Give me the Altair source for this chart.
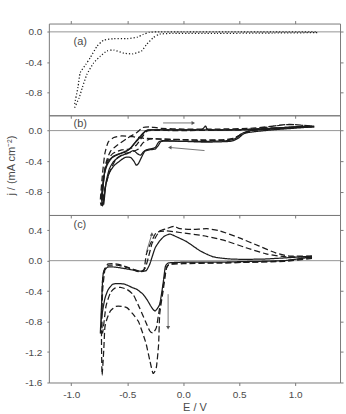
import altair as alt
import pandas as pd

# ---------------- data ----------------
X_DOMAIN = [-1.2, 1.4]
X_TICKS = [-1.0, -0.5, 0.0, 0.5, 1.0]

# panel (a): dotted curves
a_upper = [(-0.97, -0.95), (-0.94, -0.73), (-0.92, -0.54), (-0.87, -0.43), (-0.83, -0.34),
           (-0.77, -0.19), (-0.71, -0.11), (-0.62, -0.09), (-0.50, -0.09), (-0.41, -0.07),
           (-0.36, -0.035), (-0.30, -0.005), (-0.21, 0.0), (0.0, 0.0), (0.4, 0.0), (0.8, 0.0), (1.2, 0.0)]
a_lower = [(-0.97, -1.0), (-0.93, -0.87), (-0.90, -0.73), (-0.86, -0.56), (-0.80, -0.41),
           (-0.74, -0.32), (-0.68, -0.25), (-0.62, -0.24), (-0.53, -0.28), (-0.45, -0.29),
           (-0.37, -0.25), (-0.33, -0.17), (-0.27, -0.08), (-0.21, -0.03), (-0.09, -0.02),
           (0.3, -0.02), (0.8, -0.015), (1.2, -0.01)]

# panel (b)
b_solid1 = [(1.17, 0.05), (1.0, 0.04), (0.8, 0.02), (0.6, 0.0), (0.52, -0.04), (0.47, -0.10),
            (0.40, -0.13), (0.2, -0.14), (0.0, -0.14), (-0.18, -0.13), (-0.22, -0.15), (-0.25, -0.22),
            (-0.30, -0.24), (-0.34, -0.26), (-0.37, -0.34), (-0.40, -0.43), (-0.42, -0.45), (-0.44, -0.40),
            (-0.47, -0.35), (-0.52, -0.35), (-0.57, -0.40), (-0.62, -0.46), (-0.66, -0.55), (-0.69, -0.70),
            (-0.72, -0.98), (-0.73, -0.85), (-0.71, -0.60), (-0.68, -0.45), (-0.64, -0.36), (-0.58, -0.31),
            (-0.52, -0.28), (-0.47, -0.23), (-0.43, -0.16), (-0.38, -0.08), (-0.33, 0.0), (-0.25, 0.01),
            (0.0, 0.01), (0.16, 0.01), (0.20, 0.06), (0.23, 0.01), (0.5, 0.01), (0.8, 0.03), (1.0, 0.05),
            (1.17, 0.06)]
b_solid2 = [(1.17, 0.05), (0.8, 0.01), (0.56, -0.03), (0.49, -0.10), (0.42, -0.14), (0.2, -0.15),
            (0.0, -0.14), (-0.19, -0.14), (-0.22, -0.19), (-0.25, -0.24), (-0.30, -0.25), (-0.35, -0.27),
            (-0.38, -0.32), (-0.41, -0.30), (-0.445, -0.26), (-0.50, -0.30), (-0.56, -0.33), (-0.62, -0.40),
            (-0.66, -0.50), (-0.69, -0.68), (-0.71, -0.96), (-0.72, -0.80), (-0.70, -0.52), (-0.67, -0.40),
            (-0.62, -0.33), (-0.55, -0.29), (-0.49, -0.25), (-0.45, -0.19), (-0.40, -0.10), (-0.35, -0.02),
            (-0.30, 0.01), (0.0, 0.01), (0.5, 0.01), (0.9, 0.04), (1.17, 0.05)]
b_dash1 = [(1.15, 0.06), (0.95, 0.08), (0.85, 0.07), (0.7, 0.03), (0.55, -0.03), (0.48, -0.08),
           (0.40, -0.12), (0.2, -0.13), (0.0, -0.12), (-0.2, -0.11), (-0.35, -0.10), (-0.45, -0.08),
           (-0.55, -0.07), (-0.62, -0.09), (-0.67, -0.15), (-0.70, -0.30), (-0.72, -0.55), (-0.74, -0.90),
           (-0.73, -0.97), (-0.71, -0.65), (-0.69, -0.42), (-0.65, -0.27), (-0.59, -0.19), (-0.50, -0.10),
           (-0.42, -0.03), (-0.36, 0.04), (-0.30, 0.05), (-0.2, 0.03), (0.0, 0.02), (0.3, 0.02),
           (0.6, 0.03), (0.8, 0.06), (0.95, 0.08), (1.15, 0.06)]
b_dash2 = [(1.15, 0.05), (0.8, 0.03), (0.6, 0.0), (0.52, -0.05), (0.45, -0.10), (0.35, -0.12),
           (0.1, -0.12), (-0.2, -0.11), (-0.30, -0.11), (-0.36, -0.16), (-0.40, -0.24), (-0.46, -0.28),
           (-0.52, -0.30), (-0.60, -0.37), (-0.66, -0.55), (-0.70, -0.75), (-0.72, -0.92), (-0.73, -0.85),
           (-0.71, -0.58), (-0.68, -0.40), (-0.63, -0.30), (-0.55, -0.25), (-0.48, -0.24), (-0.42, -0.19),
           (-0.36, -0.07), (-0.31, 0.0), (0.0, 0.0), (0.5, 0.01), (0.9, 0.04), (1.15, 0.05)]

# panel (c)
c_solid = [(1.15, 0.05), (0.9, 0.0), (0.6, -0.01), (0.3, -0.02), (0.0, -0.02), (-0.13, -0.03),
           (-0.16, -0.08), (-0.18, -0.30), (-0.21, -0.57), (-0.25, -0.66), (-0.28, -0.62), (-0.32, -0.52),
           (-0.36, -0.44), (-0.41, -0.38), (-0.46, -0.35), (-0.52, -0.31), (-0.58, -0.30), (-0.63, -0.31),
           (-0.67, -0.38), (-0.70, -0.50), (-0.73, -0.75), (-0.74, -0.95), (-0.73, -0.60), (-0.72, -0.25),
           (-0.71, -0.14), (-0.68, -0.09), (-0.65, -0.08), (-0.58, -0.09), (-0.50, -0.11), (-0.42, -0.13),
           (-0.37, -0.14), (-0.33, -0.13), (-0.30, -0.05), (-0.28, 0.04), (-0.25, 0.17), (-0.21, 0.26),
           (-0.17, 0.32), (-0.12, 0.35), (-0.07, 0.32), (0.03, 0.25), (0.15, 0.13), (0.27, 0.05),
           (0.44, 0.02), (0.7, 0.02), (0.95, 0.04), (1.15, 0.06)]
c_dash1 = [(1.15, 0.04), (0.9, 0.0), (0.6, -0.02), (0.3, -0.03), (0.0, -0.04), (-0.12, -0.05),
           (-0.15, -0.10), (-0.18, -0.40), (-0.21, -0.70), (-0.22, -1.10), (-0.24, -1.40), (-0.27, -1.48),
           (-0.30, -1.30), (-0.33, -1.10), (-0.36, -0.96), (-0.40, -0.80), (-0.45, -0.70), (-0.50, -0.62),
           (-0.55, -0.60), (-0.60, -0.60), (-0.65, -0.66), (-0.68, -0.76), (-0.70, -0.88), (-0.71, -1.18),
           (-0.725, -1.50), (-0.73, -1.0), (-0.72, -0.4), (-0.70, -0.12), (-0.68, -0.05), (-0.62, -0.04),
           (-0.55, -0.06), (-0.45, -0.11), (-0.38, -0.14), (-0.34, -0.10), (-0.31, 0.05), (-0.28, 0.22),
           (-0.25, 0.30), (-0.21, 0.39), (-0.15, 0.42), (-0.08, 0.45), (-0.03, 0.42), (0.09, 0.41),
           (0.21, 0.42), (0.33, 0.39), (0.50, 0.30), (0.68, 0.19), (0.83, 0.10), (0.95, 0.06), (1.15, 0.06)]
c_dash2 = [(1.15, 0.03), (0.9, -0.01), (0.6, -0.02), (0.3, -0.03), (0.0, -0.03), (-0.13, -0.05),
           (-0.16, -0.15), (-0.19, -0.45), (-0.22, -0.70), (-0.24, -0.88), (-0.27, -0.95), (-0.30, -0.92),
           (-0.34, -0.79), (-0.39, -0.62), (-0.445, -0.45), (-0.50, -0.38), (-0.56, -0.35), (-0.61, -0.36),
           (-0.65, -0.42), (-0.69, -0.60), (-0.72, -0.95), (-0.73, -0.70), (-0.72, -0.25), (-0.70, -0.10),
           (-0.66, -0.06), (-0.59, -0.06), (-0.50, -0.09), (-0.43, -0.13), (-0.38, -0.15), (-0.35, -0.12),
           (-0.33, 0.08), (-0.30, 0.20), (-0.28, 0.26), (-0.24, 0.37), (-0.15, 0.39), (-0.03, 0.37),
           (0.21, 0.32), (0.38, 0.26), (0.56, 0.17), (0.74, 0.09), (0.92, 0.05), (1.15, 0.05)]

# arrows: (start, end, head shape)
b_arrows = [((-0.18, 0.10), (0.09, 0.10), "triangle-right"),
            ((0.19, -0.26), (-0.12, -0.22), "triangle-left")]
c_arrows = [((-0.33, 0.11), (-0.28, 0.35), "triangle-up"),
            ((-0.135, -0.44), (-0.135, -0.88), "triangle-down")]

# panel labels
labels = {"a": ("(a)", -0.98, -0.14), "b": ("(b)", -0.98, 0.08), "c": ("(c)", -0.98, 0.47)}

# ---------------- styling ----------------
INK = "#1c1c1c"
AX = "#7a7a7a"
LBL = "#4a4a4a"
FONT = "Liberation Sans"
PLOT_W = 292

NEG_FMT = "datum.value < 0 ? '-' + format(-datum.value, '.1f') : format(datum.value, '.1f')"


def curves_frame(curves):
    rows = []
    for name, style, pts in curves:
        for i, (e, j) in enumerate(pts):
            rows.append({"E": e, "j": j, "curve": name, "style": style, "idx": i})
    return pd.DataFrame(rows)


def panel(curves, ydom, yticks, height, key, arrows, bottom, ytitle, top_axis):
    xs = alt.Scale(domain=X_DOMAIN, nice=False, zero=False)
    ys = alt.Scale(domain=ydom, nice=False, zero=False)
    df = curves_frame(curves)

    x_axis = alt.Axis(values=X_TICKS, labels=bottom, labelExpr=NEG_FMT, tickSize=3,
                      domain=False, grid=False, labelFontSize=10, labelPadding=4,
                      title="E / V" if bottom else None, titleFontSize=11,
                      titleFontWeight="normal", titlePadding=2)
    y_axis = alt.Axis(values=yticks, labelExpr=NEG_FMT, tickSize=2, domain=False, grid=False,
                      labelFontSize=10, labelPadding=5, title=ytitle if ytitle else None,
                      titleFontSize=11, titleFontWeight="normal", titlePadding=8)

    zero = alt.Chart(pd.DataFrame({"j": [0.0]})).mark_rule(color="#8a8a8a", strokeWidth=0.9).encode(
        y=alt.Y("j:Q", scale=ys, axis=None)
    )

    frame_enc = {
        "y": alt.Y("j:Q", scale=ys,
                   axis=alt.Axis(orient="right", values=yticks, labels=False, tickSize=3,
                                 domain=False, grid=False, title=None)),
        "x": alt.X("E:Q", scale=xs,
                   axis=(alt.Axis(orient="top", values=X_TICKS, labels=False, tickSize=3,
                                  domain=False, grid=False, title=None) if top_axis else None)),
    }
    frame = alt.Chart(df).mark_point(opacity=0).encode(**frame_enc)

    lines = alt.Chart(df).mark_line(color=INK, strokeWidth=1.25, clip=True,
                                    interpolate="cardinal", tension=0.45).encode(
        x=alt.X("E:Q", scale=xs, axis=x_axis),
        y=alt.Y("j:Q", scale=ys, axis=y_axis),
        detail="curve:N",
        order="idx:Q",
        strokeDash=alt.StrokeDash("style:N",
                                  scale=alt.Scale(domain=["solid", "dashed", "dotted"],
                                                  range=[[1, 0], [6, 3], [1.2, 2]]),
                                  legend=None),
    )

    t, tx, ty = labels[key]
    text = alt.Chart(pd.DataFrame({"E": [tx], "j": [ty], "t": [t]})).mark_text(
        align="left", baseline="middle", fontSize=11, font=FONT, color=LBL
    ).encode(x=alt.X("E:Q", scale=xs, axis=None), y=alt.Y("j:Q", scale=ys, axis=None), text="t:N")

    layers = [zero, frame, lines, text]

    if arrows:
        arows, hrows = [], []
        for k, (s, e, shp) in enumerate(arrows):
            arows.append({"E": s[0], "j": s[1], "a": k, "idx": 0})
            arows.append({"E": e[0], "j": e[1], "a": k, "idx": 1})
            hrows.append({"E": e[0], "j": e[1], "shape": shp})
        adf = pd.DataFrame(arows)
        hdf = pd.DataFrame(hrows)
        shafts = alt.Chart(adf).mark_line(color="#555555", strokeWidth=0.8).encode(
            x=alt.X("E:Q", scale=xs, axis=None), y=alt.Y("j:Q", scale=ys, axis=None),
            detail="a:N", order="idx:Q")
        heads = alt.Chart(hdf).mark_point(filled=True, size=16, color="#555555", opacity=1).encode(
            x=alt.X("E:Q", scale=xs, axis=None), y=alt.Y("j:Q", scale=ys, axis=None),
            shape=alt.Shape("shape:N", scale=None))
        layers += [shafts, heads]

    return alt.layer(*layers).resolve_axis(x="independent", y="independent").properties(
        width=PLOT_W, height=height)


pa = panel([("a1", "dotted", a_upper), ("a2", "dotted", a_lower)],
           [-1.1, 0.11], [0.0, -0.4, -0.8], 92, "a", None, False, None, True)
pb = panel([("s1", "solid", b_solid1), ("s2", "solid", b_solid2),
            ("d1", "dashed", b_dash1), ("d2", "dashed", b_dash2)],
           [-1.1, 0.2], [0.0, -0.4, -0.8], 100, "b", b_arrows, False, "j / (mA cm\u207b\u00b2)", False)
pc = panel([("s1", "solid", c_solid), ("d1", "dashed", c_dash1), ("d2", "dashed", c_dash2)],
           [-1.6, 0.6], [0.4, 0.0, -0.4, -0.8, -1.2, -1.6], 168, "c", c_arrows, True, None, False)

chart = alt.vconcat(pa, pb, pc, spacing=0, bounds="flush").properties(
    padding={"left": 5, "top": 19, "right": 2, "bottom": 2}
).configure_view(
    stroke=AX, strokeWidth=1
).configure_axis(
    tickColor=AX, labelColor=LBL, titleColor=LBL, labelFont=FONT, titleFont=FONT
)

chart.save("out.html", embed_options={"renderer": "svg", "actions": False})
